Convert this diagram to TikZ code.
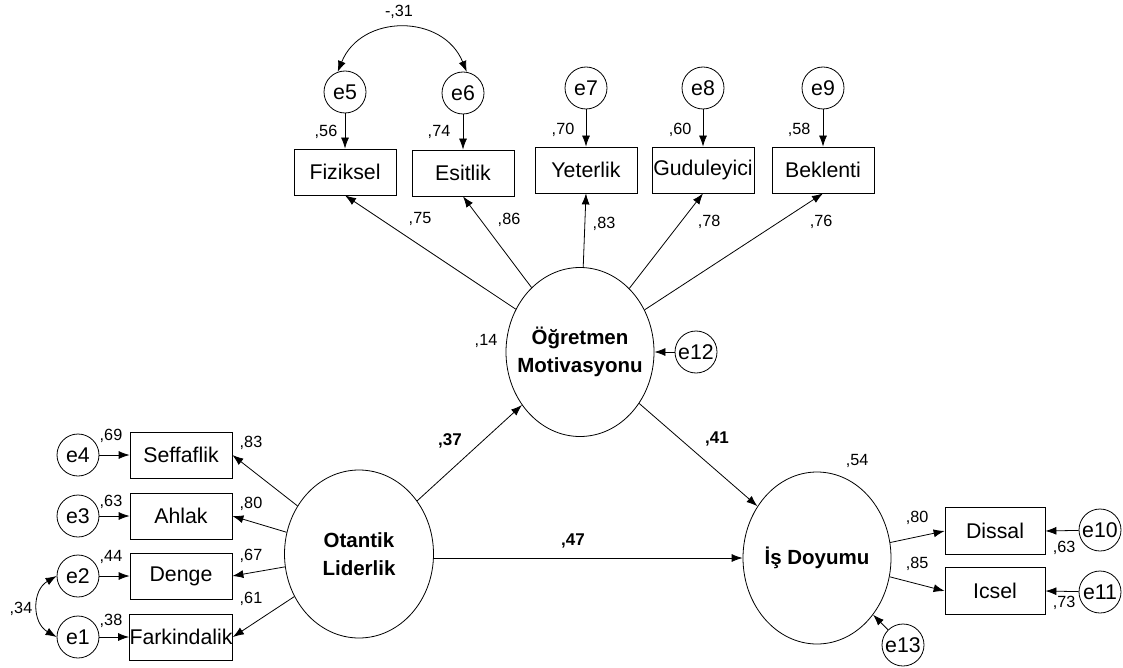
\documentclass[tikz,border=0pt]{standalone}
\usepackage{fontspec}
\setmainfont{Liberation Sans}
\usetikzlibrary{arrows.meta,shapes.geometric}

\tikzset{
  path/.style={line width=0.8pt, -{Latex[length=11pt,width=8pt]}},
  covpath/.style={line width=0.8pt, {Latex[length=11pt,width=8pt]}-{Latex[length=11pt,width=8pt]}},
  obs/.style={draw, line width=0.8pt, rectangle, minimum width=102pt, minimum height=46pt,
    inner sep=0pt, font=\fontsize{21.3}{24}\selectfont},
  err/.style={draw, line width=0.8pt, circle, minimum size=42pt, inner sep=0pt,
    font=\fontsize{21.3}{24}\selectfont},
  latent/.style={draw, line width=0.8pt, ellipse, inner sep=0pt},
  latentname/.style={align=center, inner sep=0pt,
    font=\bfseries\fontsize{20.5}{28}\selectfont},
  coef/.style={anchor=base, inner sep=0pt, font=\fontsize{16.2}{18}\selectfont},
  bcoef/.style={anchor=base, inner sep=0pt, font=\bfseries\fontsize{17}{20}\selectfont},
}

\begin{document}
\begin{tikzpicture}[x=1pt, y=1pt]
\fill[white] (0,0) rectangle (1123,-668);
\useasboundingbox (0,0) rectangle (1123,-668);

% latent variables
\node[latent, minimum width=148pt, minimum height=169pt,
  label={[latentname]center:Öğretmen\\Motivasyonu}] (om) at (580,-352) {};
\node[latent, minimum width=149pt, minimum height=168pt,
  label={[latentname]center:Otantik\\Liderlik}] (ol) at (359,-554) {};
\node[latent, minimum width=148pt, minimum height=172pt,
  label={[latentname]center:İş Doyumu}] (id) at (817,-558) {};

% indicators of teacher motivation
\node[obs] (fiz) at (345,-172) {Fiziksel};
\node[obs] (esi) at (463,-173) {Esitlik};
\node[obs] (yet) at (586,-170) {Yeterlik};
\node[obs] (gud) at (703,-170) {Guduleyici};
\node[obs] (bek) at (823,-170) {Beklenti};

\node[err] (e5) at (345,-92) {e5};
\node[err] (e6) at (463,-93) {e6};
\node[err] (e7) at (586,-88) {e7};
\node[err] (e8) at (703,-88) {e8};
\node[err] (e9) at (823,-88) {e9};

% indicators of authentic leadership
\node[obs] (sef) at (181,-455) {Seffaflik};
\node[obs] (ahl) at (181,-516) {Ahlak};
\node[obs] (den) at (181,-576) {Denge};
\node[obs] (far) at (181,-637) {Farkindalik};

\node[err] (e4) at (78,-455) {e4};
\node[err] (e3) at (78,-516) {e3};
\node[err] (e2) at (78,-576) {e2};
\node[err] (e1) at (78,-637) {e1};

% indicators of job satisfaction
\node[obs, minimum width=100pt, minimum height=47pt] (dis) at (995,-531) {Dissal};
\node[obs, minimum width=100pt, minimum height=47pt] (ics) at (995,-591) {Icsel};

\node[err] (e10) at (1100,-530) {e10};
\node[err] (e11) at (1100,-592) {e11};
\node[err] (e12) at (696,-352) {e12};
\node[err] (e13) at (903,-645) {e13};

% measurement paths
\foreach \e/\b in {e5/fiz, e6/esi, e7/yet, e8/gud, e9/bek, e4/sef, e3/ahl, e2/den, e1/far}
  \draw[path] (\e) -- (\b);
\foreach \b in {fiz, esi, yet, gud, bek}
  \draw[path] (om) -- (\b.south);
\foreach \b in {sef, ahl, den, far}
  \draw[path] (ol) -- (\b.east);
\draw[path] (id) -- (dis.west);
\draw[path] (id) -- (ics.west);
\draw[path] (e10) -- (dis.east);
\draw[path] (e11) -- (ics.east);

% disturbances
\draw[path] (e12) -- (om);
\draw[path] (e13) -- (id);

% structural paths
\draw[path] (ol) -- (om);
\draw[path] (om) -- (id);
\draw[path] (ol.east |- id) -- (id.west);

% error covariances
\draw[covpath] (e5.110) to[out=68, in=112, looseness=1.25] (e6.80);
\draw[covpath] (e2.west) to[out=210, in=150, looseness=1.2] (e1.west);

% coefficients
\node[coef] (c31) at (399,-17) {-,31};
\node[coef] (c56) at (326,-137) {,56};
\node[coef] (c74) at (439,-137) {,74};
\node[coef] (c70) at (563,-135) {,70};
\node[coef] (c60) at (680,-135) {,60};
\node[coef] (c58) at (799,-135) {,58};

\node[coef] (l75) at (420,-223) {,75};
\node[coef] (l86) at (509,-225) {,86};
\node[coef] (l83) at (604,-229) {,83};
\node[coef] (l78) at (709,-227) {,78};
\node[coef] (l76) at (821,-227) {,76};
\node[coef] (r14) at (486,-345) {,14};

\node[coef] (c69) at (111,-440) {,69};
\node[coef] (c63) at (111,-506) {,63};
\node[coef] (c44) at (111,-561) {,44};
\node[coef] (c38) at (111,-625) {,38};
\node[coef] (c34) at (21,-613) {,34};
\node[coef] (l83b) at (251,-447) {,83};
\node[coef] (l80) at (251,-508) {,80};
\node[coef] (l67) at (251,-560) {,67};
\node[coef] (l61) at (251,-603) {,61};

\node[coef] (r54) at (857,-465) {,54};
\node[coef] (l80b) at (917,-522) {,80};
\node[coef] (l85) at (917,-568) {,85};
\node[coef] (c63b) at (1064,-552) {,63};
\node[coef] (c73) at (1064,-607) {,73};

\node[bcoef] (b37) at (450,-445) {,37};
\node[bcoef] (b41) at (717,-443) {,41};
\node[bcoef] (b47) at (573,-545) {,47};
\end{tikzpicture}
\end{document}
